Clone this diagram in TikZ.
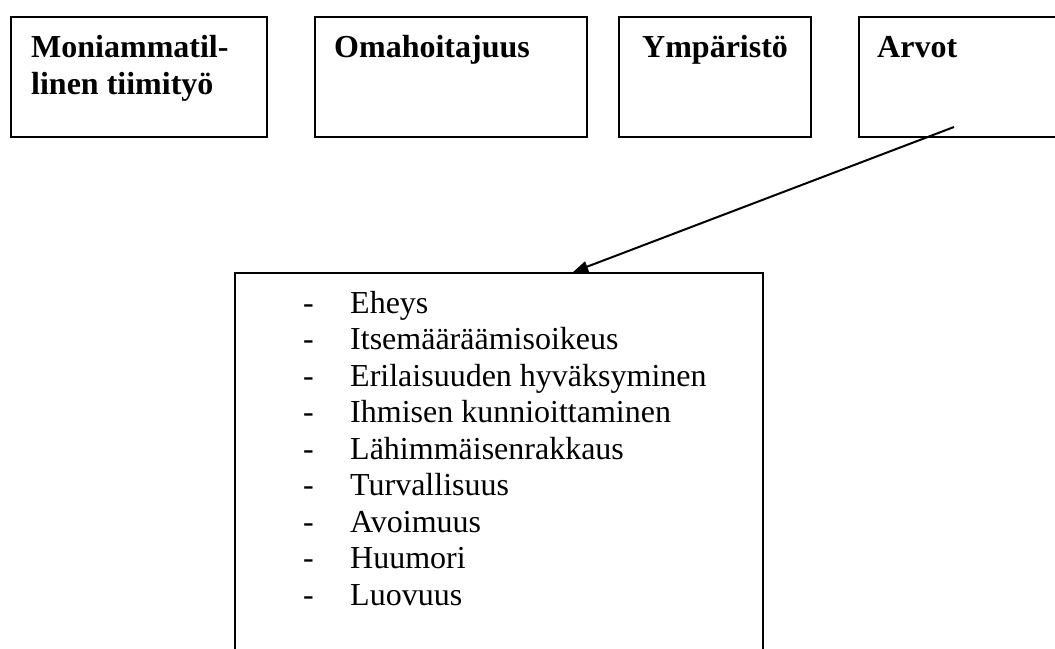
\documentclass[tikz,border=0pt]{standalone}
\usepackage{fontspec}
\setmainfont{Liberation Serif}
\usetikzlibrary{arrows.meta}
\begin{document}
\begin{tikzpicture}[x=1pt,y=-1pt,
  box/.style={draw,line width=2.2pt,inner sep=0pt,anchor=north west},
  head/.style={font=\fontsize{32}{37}\selectfont\bfseries,anchor=base west,inner sep=0pt},
  item/.style={font=\fontsize{32}{37}\selectfont,anchor=base west,inner sep=0pt},
  conn/.style={line width=2pt,-{Triangle[length=15pt,width=11pt]}}]
\useasboundingbox[fill=white] (0,0) rectangle (1055,648);
\node[box,minimum width=256pt,minimum height=120pt] (b1) at (10,16) {};
\node[box,minimum width=272pt,minimum height=120pt] (b2) at (314,16) {};
\node[box,minimum width=192pt,minimum height=120pt] (b3) at (618,16) {};
\node[box,minimum width=260pt,minimum height=120pt] (b4) at (858,16) {};
\node[box,minimum width=528pt,minimum height=420pt] (list) at (234,272) {};
\node[head] (t1a) at (31,57) {Moniammatil-};
\node[head] (t1b) at (31,94) {linen tiimityö};
\node[head] (t2) at (334,57) {Omahoitajuus};
\node[head] (t3) at (642,57) {Ympäristö};
\node[head] (t4) at (877,57) {Arvot};
\foreach \txt [count=\i from 0] in {Eheys,Itsemääräämisoikeus,Erilaisuuden hyväksyminen,Ihmisen kunnioittaminen,Lähimmäisenrakkaus,Turvallisuus,Avoimuus,Huumori,Luovuus}{
  \node[item] (d\i) at (303,313+36.5*\i) {-};
  \node[item] (i\i) at (350,313+36.5*\i) {\txt};
}
\coordinate (astart) at (954,127);
\draw[conn] (astart) -- ([xshift=74pt]list.north);
\end{tikzpicture}
\end{document}
